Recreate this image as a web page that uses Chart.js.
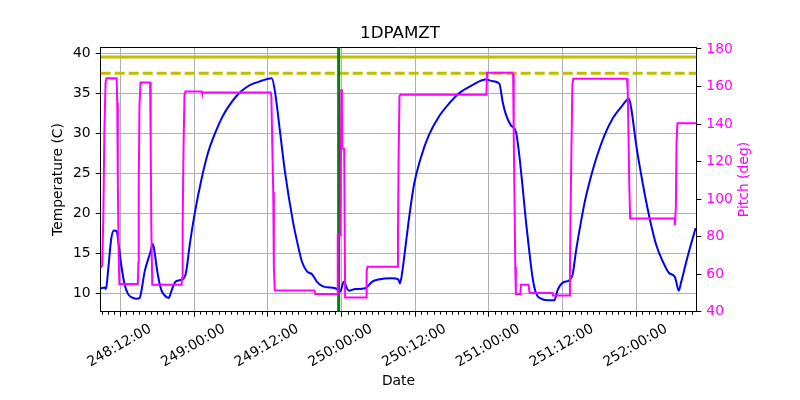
<!DOCTYPE html>
<html><head><meta charset="utf-8">
<script src="https://cdn.jsdelivr.net/npm/chart.js@4/dist/chart.umd.min.js"></script>
<style>html,body{margin:0;padding:0;background:#fff;}canvas{display:block;}</style>
</head><body>
<canvas id="c" width="800" height="400"></canvas>
<script>
// Time is expressed in hours since day 248, 00:00:00
const tempHours = [8.81, 9.46, 9.67, 10.0, 10.53, 10.97, 11.41, 11.74, 12.16, 12.72, 13.25, 13.79, 14.6, 15.16, 15.42, 15.97, 16.79, 17.32, 17.6, 18.02, 18.67, 19.23, 19.88, 20.3, 20.95, 21.67, 22.37, 22.74, 23.3, 24.11, 25.25, 26.33, 27.42, 28.51, 29.58, 31.21, 32.84, 35.02, 36.65, 37.18, 38.0, 38.81, 40.11, 40.76, 41.58, 42.39, 43.21, 44.02, 45.11, 47.0, 47.81, 48.37, 49.18, 50.25, 51.88, 52.97, 54.06, 56.23, 57.25, 57.53, 57.91, 58.46, 59.0, 59.81, 60.9, 62.25, 63.88, 65.51, 67.14, 69.3, 71.48, 72.62, 73.7, 74.25, 74.79, 75.6, 76.41, 76.95, 77.51, 78.04, 78.58, 79.13, 79.67, 80.48, 81.58, 82.65, 83.2, 84.02, 85.09, 85.64, 86.18, 87.0, 87.65, 88.41, 89.49, 90.85, 92.2, 93.56, 94.81, 95.18, 96.0, 97.09, 98.18, 99.25, 100.34, 101.32, 102.25, 102.51, 102.9, 103.32, 104.14, 104.95, 105.67];
const tempValues = [10.7, 10.8, 10.6, 12.8, 16.9, 17.9, 17.8, 16.1, 13.6, 11.1, 10.0, 9.6, 9.4, 9.5, 10.3, 12.8, 14.9, 16.2, 15.1, 12.8, 10.5, 9.8, 9.5, 10.3, 11.5, 11.7, 11.95, 12.8, 16.1, 20.0, 24.4, 27.7, 30.0, 31.9, 33.3, 34.9, 35.9, 36.55, 36.85, 35.2, 30.2, 25.2, 19.0, 16.6, 14.0, 12.8, 12.45, 11.5, 10.9, 10.7, 10.3, 11.5, 10.4, 10.6, 10.7, 11.5, 11.8, 11.95, 11.8, 11.3, 12.8, 16.1, 19.4, 23.6, 26.9, 29.8, 32.1, 33.7, 35.0, 36.0, 36.7, 36.5, 36.2, 33.9, 32.3, 31.0, 30.2, 27.3, 23.2, 19.0, 15.3, 11.95, 10.1, 9.4, 9.2, 9.2, 10.5, 11.4, 11.7, 12.4, 15.3, 19.0, 21.6, 24.0, 26.9, 29.8, 31.9, 33.3, 34.3, 33.1, 28.5, 23.6, 19.4, 16.1, 14.0, 12.6, 12.15, 11.5, 10.4, 11.5, 14.0, 16.3, 18.2];

const pitchHours = [8.81, 9.05, 9.25, 9.4, 9.6, 9.75, 11.4, 11.5, 11.6, 11.75, 11.85, 14.85, 14.95, 15.0, 15.12, 15.3, 16.85, 16.95, 17.05, 17.2, 22.0, 22.05, 22.15, 22.3, 22.45, 22.6, 25.25, 25.3, 36.5, 36.6, 36.75, 36.9, 37.0, 37.15, 43.6, 43.75, 47.3, 47.4, 47.85, 47.98, 48.08, 48.12, 48.45, 48.6, 52.0, 52.1, 52.25, 57.1, 57.2, 57.3, 57.45, 57.6, 71.6, 71.7, 75.85, 75.95, 76.05, 76.15, 76.3, 76.4, 77.1, 77.25, 78.45, 78.65, 82.4, 82.45, 85.1, 85.2, 85.3, 85.45, 85.6, 85.75, 94.5, 94.6, 94.7, 94.85, 95.0, 102.2, 102.3, 102.45, 102.55, 102.7, 105.77];
const pitchValues = [63.5, 64.5, 92, 135, 162, 164.4, 164.4, 151.5, 109, 66.7, 54.7, 54.7, 66, 108, 149.8, 162.1, 162.1, 130.3, 85.2, 54.3, 54.3, 58, 86.1, 128.5, 155.4, 157.4, 157.4, 156.8, 156.8, 154.2, 126.8, 103.8, 64, 51.3, 51.3, 49.4, 49.4, 80.8, 80.8, 158.6, 150, 126.8, 126.8, 47.6, 47.6, 61.4, 64, 64, 77.3, 120.6, 155, 155.6, 155.6, 167.4, 167.4, 166.5, 133.8, 107.3, 64, 49.4, 49.4, 54.3, 54.3, 49.9, 49.9, 48.6, 48.6, 59.6, 93.2, 128.5, 161.3, 164.2, 164.2, 158, 140.9, 109.1, 89.7, 89.7, 86.1, 96.7, 130.3, 140.4, 140.4];

const xTickHours = [12, 24, 36, 48, 60, 72, 84, 96];
const xTickLabels = ['248:12:00', '249:00:00', '249:12:00', '250:00:00', '250:12:00', '251:00:00', '251:12:00', '252:00:00'];
const tempTicks = [10, 15, 20, 25, 30, 35, 40];
const pitchTicks = [40, 60, 80, 100, 120, 140, 160, 180];

const xRange = [8.81, 105.77];
const tempRange = [7.78, 40.72];
const pitchRange = [40, 180.9];
const tempLimitSolid = 39.5;
const tempLimitDashed = 37.5;
const markerHour = 47.55;
const minorStepHours = 1;

Chart.defaults.font.family = "'DejaVu Sans', sans-serif";
Chart.defaults.color = '#000';

const toXY = (xs, ys) => xs.map((x, i) => ({x: x, y: ys[i]}));

const decor = {
  id: 'decor',
  afterDraw(chart) {
    const ctx = chart.ctx, s = chart.scales.x, a = chart.chartArea;
    ctx.save();
    ctx.strokeStyle = '#000';
    ctx.lineWidth = 1;
    for (let h = Math.ceil(xRange[0]); h <= xRange[1]; h += minorStepHours) {
      if (h % 12 === 0) continue;
      const px = Math.round(s.getPixelForValue(h)) + 0.5;
      ctx.beginPath(); ctx.moveTo(px, a.bottom); ctx.lineTo(px, a.bottom + 3); ctx.stroke();
    }
    ctx.fillStyle = '#ff00ff';
    ctx.font = "13.9px 'DejaVu Sans', sans-serif";
    ctx.textAlign = 'center';
    ctx.textBaseline = 'middle';
    ctx.translate(744, (a.top + a.bottom) / 2);
    ctx.rotate(-Math.PI / 2);
    ctx.fillText('Pitch (deg)', 0, 0);
    ctx.restore();
  }
};

new Chart(document.getElementById('c'), {
  type: 'line',
  data: {
    datasets: [
      {label: 'Pitch', data: toXY(pitchHours, pitchValues), yAxisID: 'y2', xAxisID: 'x',
       borderColor: '#ff00ff', borderWidth: 2, pointRadius: 0, tension: 0, order: 0},
      {label: 'marker', data: [{x: markerHour, y: tempRange[0]}, {x: markerHour, y: tempRange[1]}], yAxisID: 'y',
       borderColor: '#008000', borderWidth: 3, pointRadius: 0, order: 1},
      {label: 'limit', data: [{x: xRange[0], y: tempLimitSolid}, {x: xRange[1], y: tempLimitSolid}], yAxisID: 'y',
       borderColor: '#bfbf00', borderWidth: 3, pointRadius: 0, order: 2},
      {label: 'planning', data: [{x: xRange[0], y: tempLimitDashed}, {x: xRange[1], y: tempLimitDashed}], yAxisID: 'y',
       borderColor: '#bfbf00', borderWidth: 3, borderDash: [10, 4], pointRadius: 0, order: 3},
      {label: '1DPAMZT', data: toXY(tempHours, tempValues), yAxisID: 'y',
       borderColor: '#0000ff', borderWidth: 2, pointRadius: 0, cubicInterpolationMode: 'monotone', order: 4}
    ]
  },
  options: {
    responsive: false,
    animation: false,
    layout: {padding: 0},
    plugins: {
      legend: {display: false},
      tooltip: {enabled: false},
      title: {display: true, text: '1DPAMZT', color: '#000',
              font: {size: 16.7, weight: 'normal', lineHeight: 1.2},
              padding: {top: 24, bottom: 3.26}}
    },
    scales: {
      x: {
        type: 'linear', position: 'bottom', min: xRange[0], max: xRange[1],
        afterBuildTicks: (s) => { s.ticks = xTickHours.map(v => ({value: v})); },
        afterFit: (s) => { s.height = 88.3; },
        ticks: {
          callback: (v) => { const i = xTickHours.indexOf(v); return i >= 0 ? xTickLabels[i] : ''; },
          minRotation: 30, maxRotation: 30, autoSkip: false, padding: 4, labelOffset: 30,
          font: {size: 13.9}, color: '#000'
        },
        grid: {color: '#b0b0b0', lineWidth: 1, tickColor: '#000', tickLength: 5},
        border: {color: '#000', width: 1},
        title: {display: true, text: 'Date', color: '#000', font: {size: 13.9}, padding: {top: 0, bottom: 10.7}}
      },
      x2: {
        type: 'linear', position: 'top', min: xRange[0], max: xRange[1],
        afterFit: (s) => { s.height = 0; },
        ticks: {display: false},
        grid: {display: false, drawTicks: false},
        border: {display: true, color: '#000', width: 1}
      },
      y: {
        type: 'linear', position: 'left', min: tempRange[0], max: tempRange[1],
        afterBuildTicks: (s) => { s.ticks = tempTicks.map(v => ({value: v})); },
        afterFit: (s) => { s.width = 100.7; },
        ticks: {font: {size: 13.9}, color: '#000', padding: 5},
        grid: {color: '#b0b0b0', lineWidth: 1, tickColor: '#000', tickLength: 5},
        border: {color: '#000', width: 1},
        title: {display: true, text: 'Temperature (C)', color: '#000', font: {size: 13.9}, padding: {top: 50, bottom: 0}}
      },
      y2: {
        type: 'linear', position: 'right', min: pitchRange[0], max: pitchRange[1],
        afterBuildTicks: (s) => { s.ticks = pitchTicks.map(v => ({value: v})); },
        afterFit: (s) => { s.width = 103.7; },
        ticks: {font: {size: 13.9}, color: '#ff00ff', padding: 5},
        grid: {drawOnChartArea: false, tickColor: '#000', tickLength: 5},
        border: {color: '#000', width: 1}
      }
    }
  },
  plugins: [decor]
});
</script>
</body></html>
